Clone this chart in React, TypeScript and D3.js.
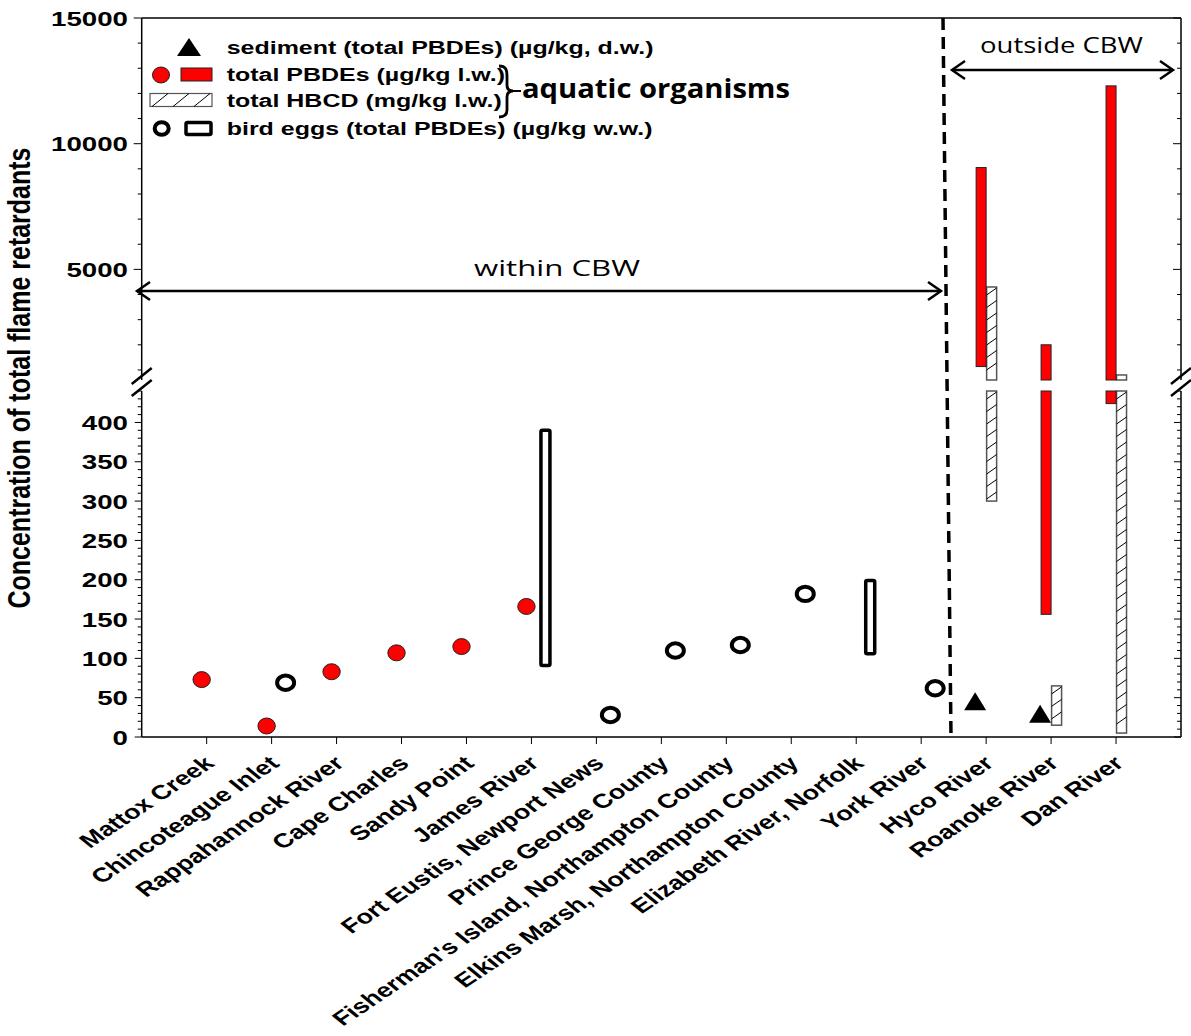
import React from "react";
import * as d3 from "d3";

const categories = [
  "Mattox Creek",
  "Chincoteague Inlet",
  "Rappahannock River",
  "Cape Charles",
  "Sandy Point",
  "James River",
  "Fort Eustis, Newport News",
  "Prince George County",
  "Fisherman's Island, Northampton County",
  "Elkins Marsh, Northampton County",
  "Elizabeth River, Norfolk",
  "York River",
  "Hyco River",
  "Roanoke River",
  "Dan River"
];

// aquatic organisms, total PBDEs (µg/kg l.w.), single values
const pbdePoints: [string, number][] = [
  ["Mattox Creek", 73],
  ["Chincoteague Inlet", 14],
  ["Rappahannock River", 83],
  ["Cape Charles", 107],
  ["Sandy Point", 115],
  ["James River", 166]
];

// aquatic organisms, total PBDEs, ranges [min, max]
const pbdeRanges: [string, number, number][] = [
  ["Hyco River", 1135, 9050],
  ["Roanoke River", 156, 2000],
  ["Dan River", 424, 12300]
];

// aquatic organisms, total HBCD (mg/kg l.w.), ranges
const hbcdRanges: [string, number, number][] = [
  ["Hyco River", 300, 4300],
  ["Roanoke River", 15, 65],
  ["Dan River", 5, 800]
];

// bird eggs, total PBDEs (µg/kg w.w.)
const birdPoints: [string, number][] = [
  ["Chincoteague Inlet", 69],
  ["Fort Eustis, Newport News", 28],
  ["Prince George County", 110],
  ["Fisherman's Island, Northampton County", 117],
  ["Elkins Marsh, Northampton County", 182],
  ["York River", 62]
];

const birdRanges: [string, number, number][] = [
  ["James River", 91, 390],
  ["Elizabeth River, Norfolk", 106, 199]
];

// sediment, total PBDEs (µg/kg d.w.)
const sedimentPoints: [string, number][] = [
  ["Hyco River", 43],
  ["Roanoke River", 27]
];

const upperTicks = [5000, 10000, 15000];
const lowerTicks = [0, 50, 100, 150, 200, 250, 300, 350, 400];

const width = 1191;
const height = 1036;
const left = 141.7;
const right = 1181;
const top = 18;
const bottom = 737;
const breakTop = 380; // bottom of upper panel
const breakBottom = 391; // top of lower panel
const K = 1.35; // horizontal stretch of the original figure text
const FONT = "'Liberation Sans', Arial, sans-serif";
const SOFT = "'Open Sans', 'Noto Sans', sans-serif";

export default function App() {
  const x = d3.scalePoint<string>().domain(categories).range([left, right]).padding(1);
  const yUp = d3.scaleLinear().domain([600, 15000]).range([breakTop, top]);
  const yLo = d3.scaleLinear().domain([0, 440]).range([bottom, breakBottom]);
  const yv = (v: number) => (v <= 440 ? yLo(v) : yUp(v));

  // split a [lo, hi] range into drawable pieces around the axis break
  const pieces = (lo: number, hi: number): [number, number][] => {
    if (hi <= 440) return [[yLo(hi), yLo(lo)]];
    if (lo >= 600) return [[yUp(hi), yUp(lo)]];
    return [
      [breakBottom, yLo(lo)],
      [yUp(hi), breakTop]
    ];
  };

  const hatch = (x0: number, w: number, y0: number, y1: number, key: string) =>
    d3.range(y0 + 8, y1 + 0.1, 12.5).map((yy, i) => (
      <line key={key + i} x1={x0} y1={yy} x2={x0 + w} y2={yy - 7} stroke="#000" strokeWidth={1} />
    ));

  const upperMinor = d3.range(1000, 15001, 1000);
  const lowerMinor = d3.range(0, 441, 10);

  const arrowHead = (tx: number, ty: number, dir: number) =>
    `M${tx - dir * 13},${ty - 9}L${tx},${ty}L${tx - dir * 13},${ty + 9}`;

  const stretch = (tx: number, ty: number, rot = 0, k = K) =>
    `translate(${tx},${ty}) scale(${k},1)${rot ? ` rotate(${rot})` : ""}`;

  return (
    <svg width={width} height={height} style={{ display: "block", position: "absolute", left: 0, top: 0 }}>
      <rect width={width} height={height} fill="#fff" />

      {/* frame */}
      <line x1={left} x2={right} y1={top} y2={top} stroke="#000" strokeWidth={1.5} />
      <line x1={left} x2={right} y1={bottom} y2={bottom} stroke="#000" strokeWidth={1.5} />
      {[left, right].map((ax) => (
        <g key={ax}>
          <line x1={ax} x2={ax} y1={top} y2={breakTop} stroke="#000" strokeWidth={1.5} />
          <line x1={ax} x2={ax} y1={breakBottom} y2={bottom} stroke="#000" strokeWidth={1.5} />
        </g>
      ))}

      {/* y ticks, left outward, right inward */}
      {upperMinor.map((v) => {
        const len = v % 5000 === 0 ? 8 : 4;
        return (
          <g key={"u" + v} stroke="#000" strokeWidth={1}>
            <line x1={left - len} x2={left} y1={yUp(v)} y2={yUp(v)} />
            <line x1={right - len} x2={right} y1={yUp(v)} y2={yUp(v)} />
          </g>
        );
      })}
      {lowerMinor.map((v) => {
        const len = v % 50 === 0 ? 7 : 4;
        return (
          <g key={"l" + v} stroke="#000" strokeWidth={1}>
            <line x1={left - len} x2={left} y1={yLo(v)} y2={yLo(v)} />
            <line x1={right - len} x2={right} y1={yLo(v)} y2={yLo(v)} />
          </g>
        );
      })}
      {upperTicks.map((v) => (
        <text key={"ut" + v} transform={stretch(128, yUp(v) + 7.5)} textAnchor="end"
          fontFamily={FONT} fontWeight="bold" fontSize={20.5}>{v}</text>
      ))}
      {lowerTicks.map((v) => (
        <text key={"lt" + v} transform={stretch(128, yLo(v) + 7.5)} textAnchor="end"
          fontFamily={FONT} fontWeight="bold" fontSize={20.5}>{v}</text>
      ))}

      {/* axis break marks */}
      {[left, right].map((ax) => (
        <g key={"b" + ax} stroke="#000" strokeWidth={2.5}>
          <line x1={ax - 10} y1={breakTop + 4} x2={ax + 10} y2={breakTop - 12} />
          <line x1={ax - 10} y1={breakBottom + 5} x2={ax + 10} y2={breakBottom - 11} />
        </g>
      ))}

      {/* x ticks and labels */}
      {categories.map((c) => (
        <g key={c}>
          <line x1={x(c)} x2={x(c)} y1={bottom} y2={bottom + 7} stroke="#000" strokeWidth={1} />
          <text transform={stretch((x(c) as number) + 9, bottom + 28, -42)} textAnchor="end"
            fontFamily={FONT} fontWeight="bold" fontSize={20}>{c}</text>
        </g>
      ))}

      {/* y title */}
      <text transform={stretch(30, 378, -90, 1.22)} textAnchor="middle"
        fontFamily={FONT} fontWeight="bold" fontSize={25}>Concentration of total flame retardants</text>

      {/* dashed divider */}
      <line x1={943} y1={top} x2={951} y2={bottom} stroke="#000" strokeWidth={3.5} strokeDasharray="12 7" />

      {/* within / outside CBW arrows */}
      <g stroke="#000" strokeWidth={2.5} fill="none">
        <line x1={137} x2={941} y1={291} y2={291} />
        <path d={arrowHead(137, 291, -1)} />
        <path d={arrowHead(941, 291, 1)} />
        <line x1={952} x2={1173} y1={70} y2={70} />
        <path d={arrowHead(952, 70, -1)} />
        <path d={arrowHead(1173, 70, 1)} />
      </g>
      <text x={474} y={276} fontFamily={SOFT} fontSize={21} textLength={166} lengthAdjust="spacingAndGlyphs">within CBW</text>
      <text x={980} y={53} fontFamily={SOFT} fontSize={21} textLength={163} lengthAdjust="spacingAndGlyphs">outside CBW</text>

      {/* HBCD ranges */}
      {hbcdRanges.map(([c, lo, hi]) => {
        const cx = (x(c) as number) + 5.5;
        return pieces(lo, hi).map(([y0, y1], i) => (
          <g key={c + "h" + i}>
            <rect x={cx - 5} y={y0} width={10} height={y1 - y0} fill="#fff" stroke="#555" strokeWidth={1.5} />
            {hatch(cx - 5, 10, y0, y1, c + i)}
          </g>
        ));
      })}

      {/* PBDE ranges */}
      {pbdeRanges.map(([c, lo, hi]) => {
        const cx = (x(c) as number) - 5;
        return pieces(lo, hi).map(([y0, y1], i) => (
          <rect key={c + "p" + i} x={cx - 5} y={y0} width={10} height={y1 - y0}
            fill="#ff0000" stroke="#222" strokeWidth={1} />
        ));
      })}

      {/* bird egg ranges */}
      {birdRanges.map(([c, lo, hi]) => {
        const cx = (x(c) as number) + 14;
        return (
          <rect key={c + "br"} x={cx - 4.5} y={yv(hi)} width={9} height={yv(lo) - yv(hi)} rx={1.5}
            fill="#fff" stroke="#000" strokeWidth={3.5} />
        );
      })}

      {/* PBDE points */}
      {pbdePoints.map(([c, v]) => (
        <ellipse key={c + "pp"} cx={(x(c) as number) - 5} cy={yv(v)} rx={8.7} ry={8}
          fill="#ff0000" stroke="#222" strokeWidth={1} />
      ))}

      {/* bird egg points */}
      {birdPoints.map(([c, v]) => (
        <ellipse key={c + "bp"} cx={(x(c) as number) + 14} cy={yv(v)} rx={8.5} ry={7.2}
          fill="none" stroke="#000" strokeWidth={4} />
      ))}

      {/* sediment points */}
      {sedimentPoints.map(([c, v]) => {
        const cx = (x(c) as number) - 11;
        const cy = yv(v);
        return <path key={c + "s"} d={`M${cx - 11},${cy + 7}L${cx + 11},${cy + 7}L${cx},${cy - 11}Z`} fill="#000" />;
      })}

      {/* legend */}
      <g fontFamily={FONT} fontWeight="bold" fontSize={18.5}>
        <path d="M177,56L201,56L189,38Z" fill="#000" />
        <text transform={stretch(226.7, 54)}>sediment (total PBDEs) (µg/kg, d.w.)</text>

        <ellipse cx={161} cy={75} rx={8.5} ry={8} fill="#ff0000" stroke="#222" strokeWidth={1} />
        <rect x={181} y={68} width={31} height={13} fill="#ff0000" stroke="#222" strokeWidth={1} />
        <text transform={stretch(226.7, 80.5)}>total PBDEs (µg/kg l.w.)</text>

        <rect x={150} y={93.5} width={62} height={13} fill="#fff" stroke="#555" strokeWidth={1.2} />
        {[0, 1, 2].map((i) => (
          <line key={"lh" + i} x1={152 + i * 21} y1={106.5} x2={168 + i * 21} y2={93.5} stroke="#000" strokeWidth={1} />
        ))}
        <text transform={stretch(226.7, 107)}>total HBCD (mg/kg l.w.)</text>

        <ellipse cx={161.7} cy={128.5} rx={7} ry={6.3} fill="none" stroke="#000" strokeWidth={4} />
        <rect x={186} y={122.5} width={25} height={12} rx={1.5} fill="#fff" stroke="#000" strokeWidth={3.5} />
        <text transform={stretch(226.7, 135)}>bird eggs (total PBDEs) (µg/kg w.w.)</text>
      </g>

      {/* brace */}
      <path d="M499,66 C506,66 507,70 507,76 L507,85 C507,89 509,91 513,91 C509,91 507,93 507,97 L507,110 C507,114 505,117 499,117"
        fill="none" stroke="#000" strokeWidth={2.8} />
      <line x1={512} x2={521} y1={91} y2={91} stroke="#000" strokeWidth={2} />
      <text x={522} y={98} fontFamily={SOFT} fontWeight={700} fontSize={27} textLength={268} lengthAdjust="spacingAndGlyphs">aquatic organisms</text>
    </svg>
  );
}
